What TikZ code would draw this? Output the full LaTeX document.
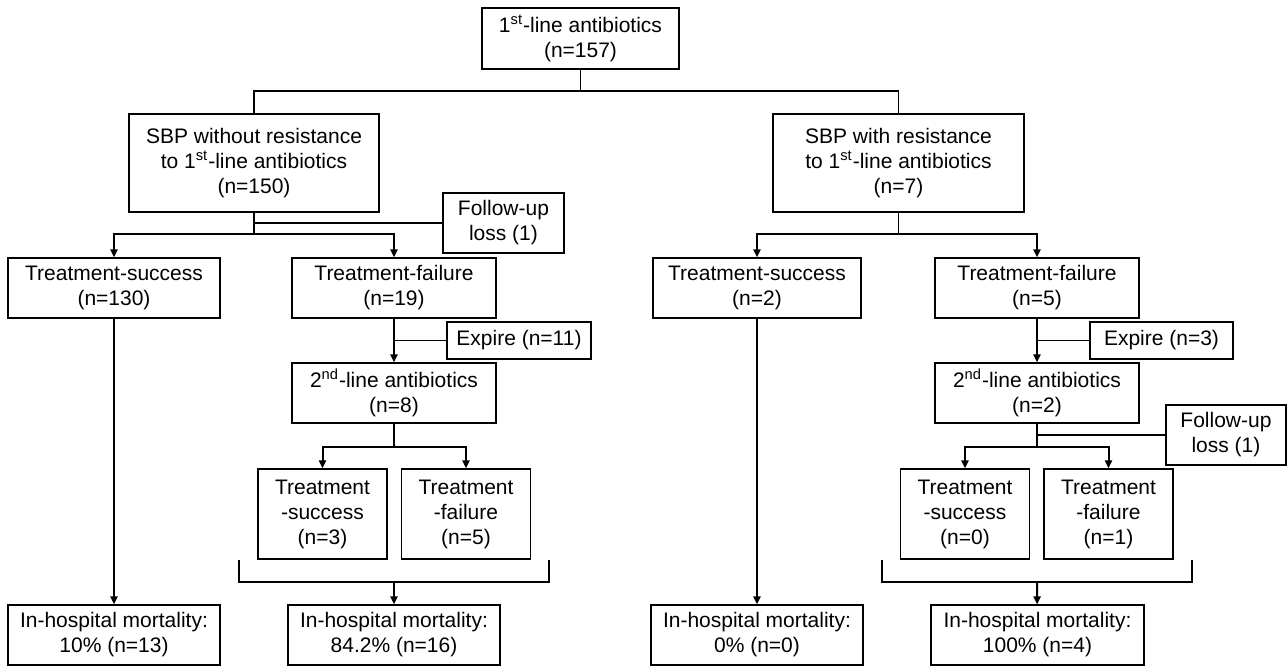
\documentclass[tikz,border=0pt]{standalone}
\usepackage{fontspec}
\setmainfont{Liberation Sans}
\usetikzlibrary{arrows.meta, positioning}

\begin{document}
\begin{tikzpicture}[
        x=0.5pt, y=-0.5pt,
        box/.style={rectangle, draw, line width=0.6pt, minimum height=30pt, minimum width=102pt, inner sep=1pt, align=center, font=\fontsize{10.5}{12.5}\selectfont},
        smallbox/.style={box, minimum width=64.5pt, minimum height=45pt},
        line/.style={line width=0.6pt},
        arrow/.style={-{Triangle[length=4pt, width=3.5pt]}, line width=1pt}
    ]
        \useasboundingbox (0,0) rectangle (1287,666);

        % Nodes
        \node[box, minimum width=98.5pt, minimum height=30.5pt] (first) at (580.5,38.5) {1\textsuperscript{st}-line antibiotics\\(n=157)};
        \node[box, minimum width=125pt, minimum height=49pt] (noresist) at (254,163) {SBP without resistance\\to 1\textsuperscript{st}-line antibiotics\\(n=150)};
        \node[box, minimum width=125.5pt, minimum height=49pt] (resist) at (898.5,163) {SBP with resistance\\to 1\textsuperscript{st}-line antibiotics\\(n=7)};
        \node[box, minimum width=60.5pt] (lossA) at (503.5,223) {Follow-up\\loss (1)};

        \node[box, minimum width=106pt] (successA) at (114,288) {Treatment-success\\(n=130)};
        \node[box] (failureA) at (394,288) {Treatment-failure\\(n=19)};
        \node[box, minimum width=104pt] (successB) at (757,288) {Treatment-success\\(n=2)};
        \node[box] (failureB) at (1037,288) {Treatment-failure\\(n=5)};

        \node[box, minimum width=72pt, minimum height=18.5pt] (expireA) at (519,340.5) {Expire (n=11)};
        \node[box, minimum width=71.5pt, minimum height=18.5pt] (expireB) at (1161.5,340.5) {Expire (n=3)};

        \node[box] (secondA) at (394,393) {2\textsuperscript{nd}-line antibiotics\\(n=8)};
        \node[box] (secondB) at (1037,393) {2\textsuperscript{nd}-line antibiotics\\(n=2)};
        \node[box, minimum width=60pt] (lossB) at (1226,435) {Follow-up\\loss (1)};

        \node[smallbox] (subsuccessA) at (322.5,514) {Treatment\\-success\\(n=3)};
        \node[smallbox] (subfailureA) at (466,514) {Treatment\\-failure\\(n=5)};
        \node[smallbox] (subsuccessB) at (965,514) {Treatment\\-success\\(n=0)};
        \node[smallbox] (subfailureB) at (1108.5,514) {Treatment\\-failure\\(n=1)};

        \node[box, minimum width=106pt] (deathA) at (114,635) {In-hospital mortality:\\10\% (n=13)};
        \node[box, minimum width=106pt] (deathB) at (394,635) {In-hospital mortality:\\84.2\% (n=16)};
        \node[box, minimum width=106pt] (deathC) at (757,635) {In-hospital mortality:\\0\% (n=0)};
        \node[box, minimum width=106.5pt] (deathD) at (1037.5,635) {In-hospital mortality:\\100\% (n=4)};

        % Junctions
        \coordinate (split) at (580.5,91);
        \coordinate (forkA) at (254,234);
        \coordinate (forkB) at (898.5,234);
        \coordinate (forkC) at (394,447);
        \coordinate (forkD) at (1037,447);
        \coordinate (bracketA1) at (239,560);
        \coordinate (bracketA2) at (549,560);
        \coordinate (joinA) at (394,582);
        \coordinate (bracketB1) at (882,560);
        \coordinate (bracketB2) at (1192,560);
        \coordinate (joinB) at (1037,582);

        % Lines
        \draw[line] (first) -- (split);
        \draw[line] (split) -| (noresist);
        \draw[line] (split) -| (resist);
        \draw[line] (noresist) -- (forkA);
        \draw[line] (resist) -- (forkB);
        \draw[line] (lossA) -- (lossA -| noresist);
        \draw[line] (expireA) -- (expireA -| failureA);
        \draw[line] (expireB) -- (expireB -| failureB);
        \draw[line] (secondA) -- (forkC);
        \draw[line] (secondB) -- (forkD);
        \draw[line] (lossB) -- (lossB -| secondB);
        \draw[line] (bracketA1) |- (joinA) -| (bracketA2);
        \draw[line] (bracketB1) |- (joinB) -| (bracketB2);

        % Arrows
        \draw[arrow] (forkA) -| (successA);
        \draw[arrow] (forkA) -| (failureA);
        \draw[arrow] (forkB) -| (successB);
        \draw[arrow] (forkB) -| (failureB);
        \draw[arrow] (failureA) -- (secondA);
        \draw[arrow] (failureB) -- (secondB);
        \draw[arrow] (forkC) -| (subsuccessA);
        \draw[arrow] (forkC) -| (subfailureA);
        \draw[arrow] (forkD) -| (subsuccessB);
        \draw[arrow] (forkD) -| (subfailureB);
        \draw[arrow] (successA) -- (deathA);
        \draw[arrow] (successB) -- (deathC);
        \draw[arrow] (joinA) -- (deathB);
        \draw[arrow] (joinB) -- (deathD);
    \end{tikzpicture}
\end{document}
